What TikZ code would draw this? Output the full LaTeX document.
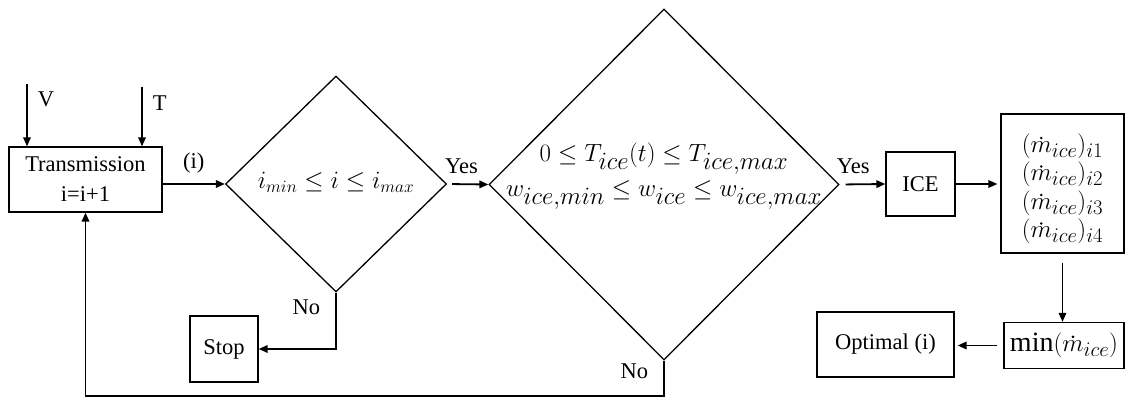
\documentclass[tikz,border=0pt]{standalone}
\usepackage{fontspec}
\setmainfont{Liberation Serif}
\usetikzlibrary{shapes.geometric, arrows.meta}

\DeclareMathSizes{24}{24}{19}{14}
\DeclareMathSizes{25}{25}{20}{15}
\DeclareMathSizes{29}{29}{23}{17}
\DeclareMathSizes{28}{28}{22}{16}

\newcommand{\flowtxt}{\fontsize{22.5}{30}\selectfont}
\newcommand{\flowchk}{\fontsize{24}{30}\selectfont}
\newcommand{\flowmath}{\fontsize{29}{35}\selectfont}
\newcommand{\flowsub}{\fontsize{25}{28.5}\selectfont}
\newcommand{\flowmin}{\fontsize{28}{30}\selectfont}
\newcommand{\flowmdot}{\tikz[baseline=(mm.base)]{\node[inner sep=0pt] (mm) {$m$};
  \fill ([yshift=0.14em]mm.north) circle[radius=0.055em];}}

\begin{document}
\begin{tikzpicture}[
  x=1pt, y=-1pt,
  box/.style  = {draw=black, line width=1.3pt, inner sep=0pt,
                 align=center, font=\flowtxt},
  cond/.style = {diamond, draw=black, line width=1.3pt, inner sep=0pt},
  lbl/.style  = {font=\flowtxt, inner sep=2pt},
  arr/.style  = {-{Triangle[length=9pt,width=7.5pt]}, line width=1.8pt}
]
\useasboundingbox (0,0) rectangle (1125,398);

\node[box, minimum width=153pt, minimum height=65pt] (trans) at (85.5,179.5)
  {Transmission\\i=i+1};
\node[cond, minimum width=221pt, minimum height=216pt] (dchk) at (336,184) {};
\node[font=\flowchk] (dchktxt) at (336,182) {$i_{min} \le i \le i_{max}$};
\node[cond, minimum width=350pt, minimum height=351pt] (dlim) at (664,184.5) {};
\node[align=center, font=\flowmath] (dlimtxt) at (664,176)
  {$0 \le T_{ice}(t) \le T_{ice,max}$\\$w_{ice,min} \le w_{ice} \le w_{ice,max}$};
\node[box, minimum width=69pt, minimum height=64pt] (ice) at (920.5,184) {ICE};
\node[box, minimum width=123pt, minimum height=139pt] (mflow) at (1062.5,183.5) {};
\node[align=center, font=\flowsub] (mflowtxt) at (1062.5,189) {
  $(\flowmdot_{ice})_{i1}$\\
  $(\flowmdot_{ice})_{i2}$\\
  $(\flowmdot_{ice})_{i3}$\\
  $(\flowmdot_{ice})_{i4}$
};
\node[box, minimum width=120pt, minimum height=46pt] (mmin) at (1064,345.5) {};
\node[font=\flowmin] (mmintxt) at (1064,345.5) {$\min(\flowmdot_{ice})$};
\node[box, minimum width=137pt, minimum height=65pt] (opt) at (885.5,344.5) {Optimal (i)};
\node[box, minimum width=68pt, minimum height=66pt] (stop) at (224,349) {Stop};

\coordinate (vtop) at (27,84);
\coordinate (ttop) at (142,87);
\draw[arr] (vtop) -- node[lbl, right=8pt, pos=0.25]{V} (vtop |- trans.north);
\draw[arr] (ttop) -- node[lbl, right=8pt, pos=0.28]{T} (ttop |- trans.north);

\draw[arr] (trans.east |- dchk.west) -- node[lbl, above=8pt]{(i)} (dchk.west);
\draw[arr, shorten <=5pt] (dchk.east) -- node[lbl, above=8pt, pos=0.35]{Yes} (dlim.west);
\draw[arr, shorten <=6pt] (dlim.east) -- node[lbl, above=8pt, pos=0.3]{Yes} (ice.west);
\draw[arr, shorten >=3pt] (ice.east) -- (mflow.west |- ice.east);
\draw[arr, shorten <=9pt] (mflow.south) -- (mflow.south |- mmin.north);
\draw[arr, shorten <=6pt, shorten >=3pt] (mmin.west) -- (opt.east |- mmin.west);

\draw[arr] (dchk.south) |- node[lbl, left=13pt, pos=0.13]{No} (stop.east);
\draw[arr] (dlim.south) -- node[lbl, left=13pt, pos=0.3]{No} ++(0,35) -| (trans.south);
\end{tikzpicture}
\end{document}
